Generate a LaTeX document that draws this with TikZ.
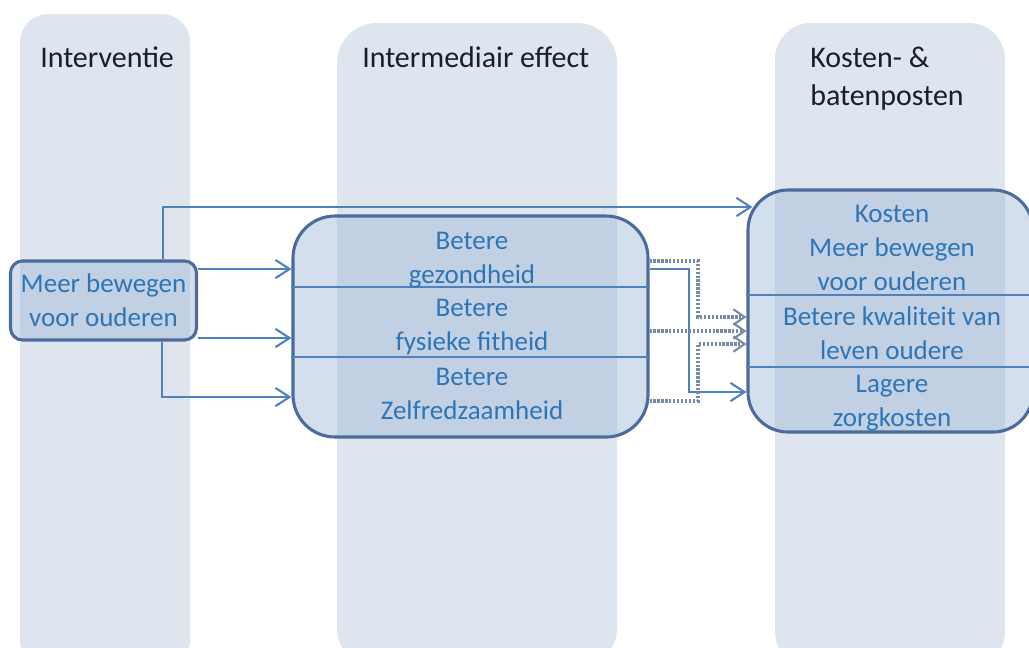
\documentclass[tikz,border=0pt]{standalone}
\usepackage{fontspec}
\setmainfont{Carlito}
\usetikzlibrary{arrows.meta,calc}

\definecolor{colbg}{RGB}{223,229,238}
\definecolor{boxfill}{RGB}{159,184,216}
\definecolor{boxline}{RGB}{74,107,156}
\definecolor{linkblue}{RGB}{79,129,189}
\definecolor{dotblue}{RGB}{118,138,168}
\definecolor{textblue}{RGB}{46,117,182}
\definecolor{headtext}{RGB}{22,30,48}

\tikzset{
  column/.style={fill=colbg},
  head/.style={text=headtext,font=\fontsize{21.3}{27}\selectfont,inner sep=0pt},
  box/.style={draw=boxline,line width=2.2pt,fill=boxfill,fill opacity=.45,
    text opacity=1,text=textblue,font=\fontsize{19.2}{24.2}\selectfont,align=center},
  boxtext/.style={text=textblue,font=\fontsize{19.2}{24.2}\selectfont,align=center,inner sep=0pt},
  divider/.style={draw=linkblue,line width=1.1pt},
  link/.style={draw=linkblue,line width=1.5pt,-{Straight Barb[length=10pt,width=13pt]}},
  dotlink/.style={draw=dotblue,line width=2.2pt,dash pattern=on 1.6pt off 1.2pt,
    -{Straight Barb[length=8pt,width=11pt,line width=1.5pt]}},
}

\begin{document}
\begin{tikzpicture}[x=0.025cm,y=-0.025cm]
  \clip (0,0) rectangle (1029,647);
  % columns
  \fill[column,rounded corners=0.7cm] (20,14) rectangle (190,668);
  \fill[column,rounded corners=1cm] (337,23) rectangle (617,668);
  \fill[column,rounded corners=0.9cm] (775,23) rectangle (1005,668);

  % headers
  \node[head,anchor=base west] (h1) at (40,67) {Interventie};
  \node[head,anchor=base west] (h2) at (362,67) {Intermediair effect};
  \node[head,anchor=base west,align=left] (h3) at (810,105) {Kosten- \&\\batenposten};

  % boxes
  \node[box,rounded corners=0.3cm,minimum width=186*0.025cm,minimum height=79*0.025cm]
    (interv) at (103.5,300.5) {Meer bewegen\\voor ouderen};
  \node[box,rounded corners=1.05cm,minimum width=355*0.025cm,minimum height=221*0.025cm]
    (effect) at (470.5,326.5) {};
  \node[box,rounded corners=1cm,minimum width=285*0.025cm,minimum height=242*0.025cm]
    (costs) at (890.5,311) {};

  \draw[divider] (effect.west |- 0,287) -- (effect.east |- 0,287);
  \draw[divider] (effect.west |- 0,357) -- (effect.east |- 0,357);
  \draw[divider] (costs.west |- 0,295) -- (costs.east |- 0,295);
  \draw[divider] (costs.west |- 0,367) -- (costs.east |- 0,367);

  \node[boxtext] (gez) at (472,260) {Betere\\gezondheid};
  \node[boxtext] (fit) at (472,327) {Betere\\fysieke fitheid};
  \node[boxtext] (zelf) at (472,394) {Betere\\Zelfredzaamheid};
  \node[boxtext] (kost) at (892,248) {Kosten\\Meer bewegen\\voor ouderen};
  \node[boxtext] (kwal) at (892,333) {Betere kwaliteit van\\leven oudere};
  \node[boxtext] (zorg) at (892,403) {Lagere\\zorgkosten};

  % connectors
  \draw[link] (interv.north -| 163,0) |- ($(costs.west |- 0,207)+(6,0)$);
  \draw[link] (interv.east |- 0,269) -- (effect.west |- 0,269);
  \draw[link] (interv.east |- 0,338) -- (effect.west |- 0,338);
  \draw[link] (interv.south -| 162,0) |- (effect.west |- 0,397);

  \draw[link] (effect.east |- 0,269) -- (689,269) |- (costs.west |- 0,392);
  \draw[dotlink] (effect.east |- 0,261) -- (698,261) |- (costs.west |- 0,317);
  \draw[dotlink] (effect.east |- 0,331) -- (costs.west |- 0,331);
  \draw[dotlink] (effect.east |- 0,401) -- (698,401) |- (costs.west |- 0,344);
\end{tikzpicture}
\end{document}
